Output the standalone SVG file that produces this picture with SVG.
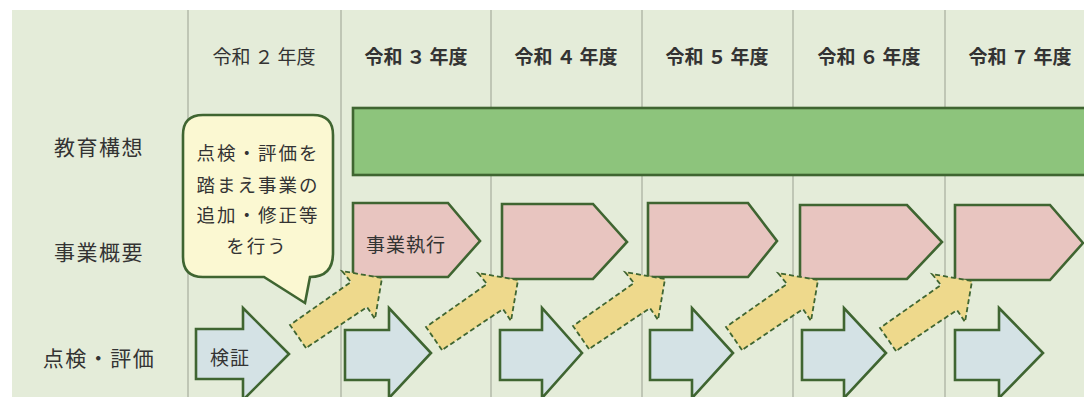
<svg xmlns="http://www.w3.org/2000/svg" width="1084" height="397" viewBox="0 0 1084 397">
<defs>
<style>
text{font-family:"Noto Sans CJK JP","Noto Sans CJK SC",sans-serif;fill:#333;text-anchor:middle;dominant-baseline:central}
.yr{font-size:19px;font-weight:bold}
.yr2{font-size:19px}
.row{font-size:21px;letter-spacing:1.5px}
.bt{font-size:18.5px;letter-spacing:2px}
.in{font-size:19px;letter-spacing:1px}
.div{stroke:#b3baa9;stroke-width:1.5}
.pent{fill:#e8c5c0;stroke:#3f6531;stroke-width:2.6;stroke-linejoin:miter}
.blue{fill:#d4e2e5;stroke:#3f6531;stroke-width:2.6}
.yel{fill:#eed98c;stroke:#3f6531;stroke-width:1.8;stroke-dasharray:5 3}
</style>
<polygon id="ya" class="yel" points="-76,70 -92,47 -31,4 -40,-7 0,0 -7,41 -15,29"/>
</defs>
<rect width="1084" height="397" fill="#ffffff"/>
<rect x="12" y="10" width="1072" height="387" fill="#e4ecd9"/>
<g id="grid">
<line class="div" x1="188" y1="10" x2="188" y2="397"/>
<line class="div" x1="341" y1="10" x2="341" y2="397"/>
<line class="div" x1="491" y1="10" x2="491" y2="397"/>
<line class="div" x1="642" y1="10" x2="642" y2="397"/>
<line class="div" x1="793" y1="10" x2="793" y2="397"/>
<line class="div" x1="945" y1="10" x2="945" y2="397"/>
</g>
<g id="years">
<text class="yr2" x="264" y="55">令和<tspan dx="4">２</tspan><tspan dx="4">年度</tspan></text>
<text class="yr" x="416" y="55">令和<tspan dx="4">３</tspan><tspan dx="4">年度</tspan></text>
<text class="yr" x="566" y="55">令和<tspan dx="4">４</tspan><tspan dx="4">年度</tspan></text>
<text class="yr" x="717" y="55">令和<tspan dx="4">５</tspan><tspan dx="4">年度</tspan></text>
<text class="yr" x="869" y="55">令和<tspan dx="4">６</tspan><tspan dx="4">年度</tspan></text>
<text class="yr" x="1020" y="55">令和<tspan dx="4">７</tspan><tspan dx="4">年度</tspan></text>
</g>
<g id="rows">
<text class="row" x="99" y="146">教育構想</text>
<text class="row" x="99" y="251">事業概要</text>
<text class="row" x="99" y="357">点検・評価</text>
</g>
<g id="plan-bar">
<rect x="353" y="108" width="740" height="67" fill="#8dc47c" stroke="#3f6531" stroke-width="2.6"/>
</g>
<g id="exec-1">
<polygon class="pent" points="353,203 448,203 480,241 448,277 353,277"/>
<text class="in" x="406" y="243">事業執行</text>
</g>
<g id="exec-2"><polygon class="pent" points="502,204 593,204 627,242 593,279 502,279"/></g>
<g id="exec-3"><polygon class="pent" points="648,203 748,203 777,241 748,277 648,277"/></g>
<g id="exec-4"><polygon class="pent" points="800,205 907,205 942,242 907,279 800,279"/></g>
<g id="exec-5"><polygon class="pent" points="955,205 1050,205 1083,243 1050,280 955,280"/></g>
<g id="check-1">
<polygon class="blue" points="196,329 243,329 243,308 289,354 243,400 243,379 196,379"/>
<text class="in" x="230" y="356">検証</text>
</g>
<g id="check-2"><polygon class="blue" points="345,330 389,330 389,308 431,353 389,398 389,380 345,380"/></g>
<g id="check-3"><polygon class="blue" points="500,330 542,330 542,308 582,353 542,398 542,380 500,380"/></g>
<g id="check-4"><polygon class="blue" points="650,330 692,330 692,308 733,353 692,398 692,380 650,380"/></g>
<g id="check-5"><polygon class="blue" points="802,330 844,330 844,308 886,353 844,398 844,380 802,380"/></g>
<g id="check-6"><polygon class="blue" points="955,330 999,330 999,308 1043,353 999,398 999,380 955,380"/></g>
<g id="callout">
<path d="M203,115 H313 Q333,115 333,135 V253 Q333,277 310,277 L305,303 L264,277 H203 Q183,277 183,257 V135 Q183,115 203,115 Z" fill="#fbf8d2" stroke="#3f6531" stroke-width="2.6"/>
<text class="bt" x="258" y="152">点検・評価を</text>
<text class="bt" x="258" y="184">踏まえ事業の</text>
<text class="bt" x="258" y="214">追加・修正等</text>
<text class="bt" x="257" y="245">を行う</text>
</g>
<g id="connectors">
<use href="#ya" x="382" y="278"/>
<use href="#ya" x="518" y="280"/>
<use href="#ya" x="665" y="279"/>
<use href="#ya" x="818" y="280"/>
<use href="#ya" x="972" y="281"/>
</g>
</svg>
